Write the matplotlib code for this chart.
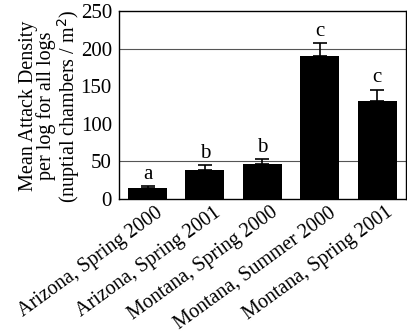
import numpy as np
import matplotlib.pyplot as plt
import matplotlib.transforms as mtransforms

# Data
sites = ['Arizona, Spring 2000', 'Arizona, Spring 2001', 'Montana, Spring 2000',
         'Montana, Summer 2000', 'Montana, Spring 2001']
means = [14.5, 39, 46, 189.5, 130]
errors = [2.5, 6.5, 7, 18, 15.5]
letters = ['a', 'b', 'b', 'c', 'c']
grid_levels = [50, 200]

plt.rcParams['font.family'] = ['Liberation Serif', 'DejaVu Serif']

fig = plt.figure(figsize=(4.07, 3.32), dpi=100)
ax = fig.add_axes([0.292, 0.4006, 0.705, 0.5664])

x = np.arange(len(sites))
for g in grid_levels:
    ax.axhline(g, color='#555555', linewidth=0.8, zorder=0)

ax.bar(x, means, width=0.68, color='black', zorder=2)
ax.errorbar(x, means, yerr=[np.zeros(len(errors)), errors], fmt='none',
            ecolor='black', elinewidth=1.2, capsize=5, capthick=1.2, zorder=3)

for xi, m, e, t in zip(x, means, errors, letters):
    ax.text(xi, m + e + 3, t, ha='center', va='bottom', fontsize=15)

ax.set_xlim(-0.5, 4.5)
ax.set_ylim(0, 250)
ax.set_yticks([0, 50, 100, 150, 200, 250])
ax.tick_params(axis='y', length=0, pad=5, labelsize=15)
ax.tick_params(axis='x', length=0, pad=3, labelsize=14.5)
ax.set_xticks(x)
ax.set_xticklabels(sites, rotation=36, ha='right', rotation_mode='anchor')
shift = mtransforms.ScaledTranslation(8 / 100, 0, fig.dpi_scale_trans)
for lbl in ax.get_xticklabels():
    lbl.set_transform(lbl.get_transform() + shift)
for s in ax.spines.values():
    s.set_linewidth(1.0)

fig.text(0.123, 0.68, 'Mean Attack Density\nper log for all logs\n(nuptial chambers / m$^2$)',
         rotation=90, ha='center', va='center', fontsize=14.5, linespacing=0.92)

fig.savefig('out.png', dpi=100)
